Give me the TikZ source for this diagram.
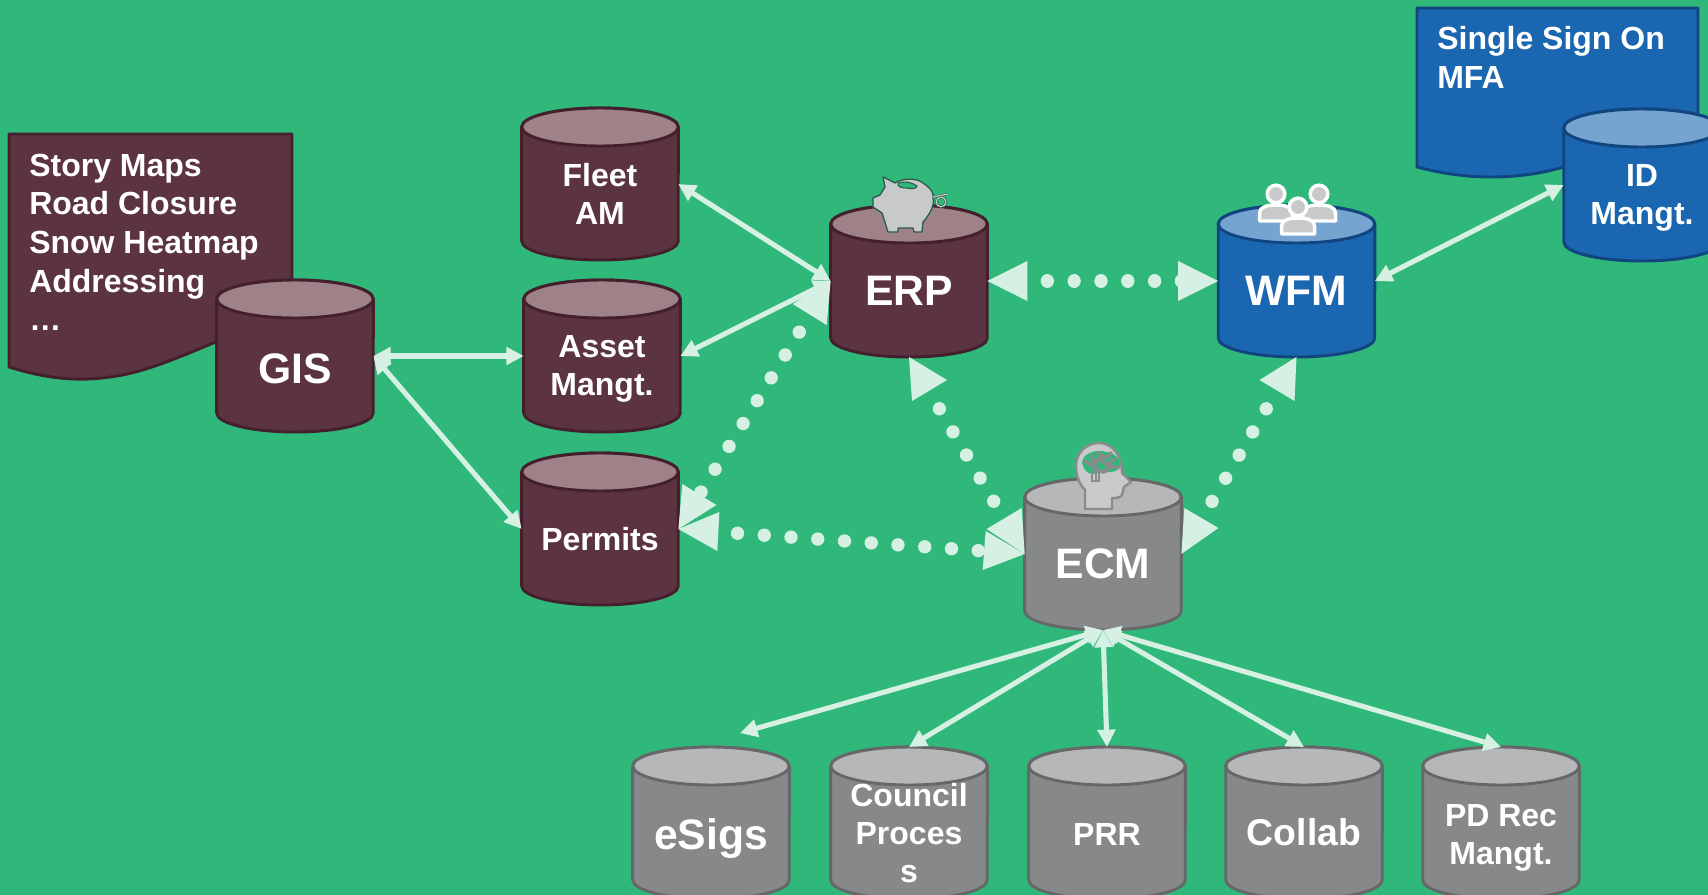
\documentclass[tikz,border=0pt]{standalone}
\usepackage{fontspec}
\setmainfont{Liberation Sans}
\usetikzlibrary{arrows.meta}
\definecolor{bggreen}{HTML}{30B87A}
\definecolor{flow}{HTML}{D6F1E4}
\definecolor{mfill}{HTML}{5C3340}\definecolor{mtop}{HTML}{9E8288}\definecolor{mline}{HTML}{44202E}
\definecolor{bfill}{HTML}{1B66B1}\definecolor{btop}{HTML}{76A4D1}\definecolor{bline}{HTML}{10457F}
\definecolor{gfill}{HTML}{87888A}\definecolor{gtop}{HTML}{B6B7B9}\definecolor{gline}{HTML}{666769}
\definecolor{iconfill}{HTML}{C8C9CB}\definecolor{iconline}{HTML}{2B5B4B}\definecolor{brainline}{HTML}{8A8B8D}
\tikzset{
  cylbox/.style={rectangle,minimum width=117.5pt,minimum height=114pt,inner sep=0pt,outer sep=0pt},
  cyltext/.style={text=white,align=center,inner sep=0pt},
  doctext/.style={text=white,align=left,inner sep=0pt,anchor=north west,font=\fontsize{24}{29}\selectfont\bfseries},
  solidlink/.style={draw=flow,line width=3.8pt,{Triangle[length=13pt,width=13pt]}-{Triangle[length=13pt,width=13pt]}},
  dotlink/.style={draw=flow,line width=10pt,line cap=round,dash pattern=on 0.01pt off 20.1pt},
  bighead/.style={fill=flow},
}
\newcommand\cylnode[7][-7.2pt]{%
  \begin{scope}[shift={(#3,#4)}]
    \path[fill=#5fill,draw=#5line,line width=2.2pt,line join=round]
      (-78.3,-57) -- (-78.3,57) arc[start angle=180,end angle=360,x radius=58.7pt,y radius=14.25pt]
      -- (78.3,-57) arc[start angle=0,end angle=180,x radius=58.7pt,y radius=14.25pt] -- cycle;
    \path[fill=#5top,draw=#5line,line width=2.2pt] (0,-57) ellipse[x radius=58.7pt,y radius=14.25pt];
  \end{scope}
  \node[cylbox,label={[cyltext,yshift=#1,font=\fontsize{#6}{28.5}\selectfont\bfseries]center:{#7}}] (#2) at (#3,#4) {};
}
\newcommand\personicon[2]{%
  \begin{scope}[shift={(#1,#2)}]
    \path[fill=iconfill,draw=white,line width=2.6pt,line join=round]
      (-16.5,27) -- (-16.5,19) .. controls (-16.5,13) and (-9,11) .. (0,11)
      .. controls (9,11) and (16.5,13) .. (16.5,19) -- (16.5,27) -- cycle;
    \path[fill=iconfill,draw=white,line width=2.6pt] (0,0) circle[radius=6.6pt];
  \end{scope}
}
\begin{document}
\begin{tikzpicture}[x=0.75pt,y=-0.75pt]
\useasboundingbox (0,0) rectangle (1708,895);
\clip (0,0) rectangle (1708,895);
\fill[bggreen] (0,0) rectangle (1708,895);

% documents
\path[fill=mfill,draw=mline,line width=2.2pt,line join=round]
  (9,134) -- (292,134) -- (292,310) -- (240,332)
  .. controls (190,352) and (150,372) .. (110,377)
  .. controls (75,382) and (45,378) .. (9,367) -- cycle;
\node[doctext] (gisdoc) at (29,153.5) {Story Maps\\Road Closure\\Snow Heatmap\\Addressing\\…};

\path[fill=bfill,draw=bline,line width=2.2pt,line join=round]
  (1417,8) -- (1698,8) -- (1698,130) -- (1600,155)
  .. controls (1560,170) and (1530,177) .. (1490,177)
  .. controls (1465,177) and (1440,173) .. (1417,167) -- cycle;
\node[doctext] (ssodoc) at (1437,26.5) {Single Sign On\\MFA};

% cylinders
\cylnode[-9.5pt]{gis}{295}{356}{m}{32}{GIS}
\cylnode{fleet}{600}{184}{m}{24}{Fleet\\AM}
\cylnode[-10pt]{asset}{602}{356}{m}{24}{Asset\\Mangt.}
\cylnode{permits}{600}{529}{m}{24}{Permits}
\cylnode{erp}{909}{281}{m}{32}{ERP}
\cylnode{wfm}{1296.5}{281}{b}{32}{WFM}
\cylnode[-10pt]{idm}{1642}{185}{b}{24}{ID\\Mangt.}
\cylnode{ecm}{1103}{554}{g}{32}{ECM}
\cylnode[-11.6pt]{esigs}{711}{823}{g}{32}{eSigs}
\cylnode{council}{909}{823}{g}{24}{Council\\Proces\\s}
\cylnode[-8.4pt]{prr}{1107}{823}{g}{24}{PRR}
\cylnode{collab}{1304}{823}{g}{28}{Collab}
\cylnode[-10.8pt]{pdrec}{1501}{823}{g}{24}{PD Rec\\Mangt.}

% piggy bank icon
\path[fill=iconfill,draw=iconline,line width=1pt,line join=round]
  (883,177) -- (895,183) .. controls (900,179) and (916,177) .. (923,183)
  .. controls (930,188) and (934,192) .. (933,197)
  .. controls (935,205) and (930,214) .. (923,222) -- (922,232) -- (914,232) -- (913,228)
  -- (898,228) -- (898,232) -- (888,232) -- (882,213) -- (873,207) -- (873,198) -- (880,195)
  -- (885,187) -- cycle;
\path[fill=bggreen,draw=iconline,line width=.8pt] (898,183) .. controls (904,181) and (912,182) .. (917,186)
  .. controls (917,189) and (912,189) .. (906,188) .. controls (902,188) and (897,187) .. (898,183) -- cycle;
\draw[iconline,line width=1.6pt] (933,197) -- (948,194);
\draw[iconfill,line width=.9pt] (933,197) -- (948,194);
\draw[iconline,line width=1.8pt] (941,202) circle[radius=3.6pt];
\draw[iconfill,line width=.9pt] (941,202) circle[radius=3.6pt];

% people icon
\personicon{1276}{194}
\personicon{1319}{194}
\personicon{1298}{207}

% head and brain icon
\path[fill=iconfill,draw=brainline,line width=1.8pt,line join=round]
  (1085,509) -- (1085,490) .. controls (1079,484) and (1076,475) .. (1076,466)
  .. controls (1076,453) and (1086,443) .. (1099,443)
  .. controls (1112,443) and (1122,455) .. (1122,473)
  -- (1131,482) -- (1124,487) -- (1122,495) .. controls (1120,498) and (1116,498) .. (1112,498)
  -- (1112,509) -- cycle;
\path[fill=bggreen] (1082,462) .. controls (1084,452) and (1098,449) .. (1106,452)
  .. controls (1116,453) and (1121,460) .. (1120,467) .. controls (1117,473) and (1108,472) .. (1100,472)
  .. controls (1092,476) and (1084,474) .. (1082,462) -- cycle;
\draw[brainline,line width=2.7pt,line cap=round,line join=round]
  (1085,461) -- (1092,466) -- (1100,458) -- (1107,466) -- (1114,459)
  (1092,455) -- (1096,470) -- (1104,472) -- (1112,466) -- (1118,468)
  (1098,453) -- (1106,458) -- (1111,453);
\draw[brainline,line width=1.5pt] (1092,472) rectangle (1099,481) (1095.5,472) -- (1095.5,481);

% solid connectors
\coordinate (esigsend) at (740,733);
\draw[solidlink] (gis.east) -- (asset.west);
\draw[solidlink] (gis.east) -- (permits.west);
\draw[solidlink] (fleet.east) -- (erp.west);
\draw[solidlink] (asset.east) -- (erp.west);
\draw[solidlink] (wfm.east) -- (idm.west);
\draw[solidlink] (ecm.south) -- (esigsend);
\draw[solidlink] (ecm.south) -- (council.north);
\draw[solidlink] (ecm.south) -- (prr.north);
\draw[solidlink] (ecm.south) -- (collab.north);
\draw[solidlink] (ecm.south) -- (pdrec.north);

% dotted connectors
\draw[dotlink,shorten <=45pt,shorten >=22pt] (erp.east) -- (wfm.west);
\draw[dotlink,shorten <=45pt,shorten >=25pt] (erp.west) -- (permits.east);
\draw[dotlink,shorten <=44.5pt,shorten >=28pt] (permits.east) -- (ecm.west);
\draw[dotlink,shorten <=45pt,shorten >=40pt] (erp.south) -- (ecm.west);
\draw[dotlink,shorten <=45pt,shorten >=40pt] (wfm.south) -- (ecm.east);

% large arrowheads of the dotted connectors
\fill[bighead] (erp.east) -- +(40,-20) -- +(40,20) -- cycle;
\fill[bighead] (wfm.west) -- +(-40,-20) -- +(-40,20) -- cycle;
\fill[bighead] (erp.west) -- +(-38,23) -- +(-4,44) -- cycle;
\fill[bighead] (permits.east) -- +(4,-45) -- +(38,-24) -- cycle;
\fill[bighead] (permits.east) -- +(41,-17) -- +(39,22) -- cycle;
\fill[bighead] (ecm.west) -- +(-38,-25) -- +(-3,-46) -- cycle;
\fill[bighead] (ecm.west) -- +(-39,-23) -- +(-42,16) -- cycle;
\fill[bighead] (erp.south) -- +(38,23) -- +(3,44) -- cycle;
\fill[bighead] (wfm.south) -- +(-37,23) -- +(-2,44) -- cycle;
\fill[bighead] (ecm.east) -- +(3,-46) -- +(37,-26) -- cycle;
\end{tikzpicture}
\end{document}
